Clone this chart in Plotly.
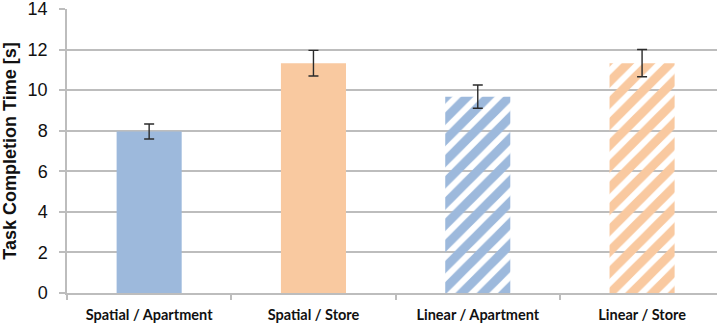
import plotly.graph_objects as go

categories = ["Spatial / Apartment", "Spatial / Store", "Linear / Apartment", "Linear / Store"]
means = [7.96, 11.33, 9.68, 11.33]
errors = [0.37, 0.63, 0.57, 0.67]
colors = ["#9DB9DC", "#F9C9A0", "#9DB9DC", "#F9C9A0"]
patterns = ["", "", "/", "/"]
y_ticks = [0, 2, 4, 6, 8, 10, 12, 14]

fig = go.Figure()
fig.add_trace(go.Bar(
    x=categories,
    y=means,
    width=0.396,
    marker=dict(
        color=colors,
        line=dict(width=0),
        pattern=dict(shape=patterns, fillmode="replace", bgcolor="white",
                     fgcolor=colors, size=15, solidity=0.6),
    ),
    error_y=dict(type="data", array=errors, visible=True, color="#2b2b2b",
                 thickness=1.4, width=5),
    showlegend=False,
))

fig.update_layout(
    width=717, height=329,
    margin=dict(l=67, r=0, t=9, b=36),
    plot_bgcolor="white", paper_bgcolor="white",
    bargap=0.6,
)
fig.update_yaxes(
    range=[0, 14], tickvals=y_ticks, ticktext=[str(v) for v in y_ticks],
    showgrid=True, gridcolor="#BDBDBD", gridwidth=1.5,
    showline=True, linecolor="#BDBDBD", linewidth=1.5,
    ticks="outside", ticklen=6, tickcolor="#BDBDBD", tickwidth=1.5,
    ticklabelstandoff=8, ticklabeloverflow="allow",
    tickfont=dict(family="Liberation Sans, Arial", size=18, color="#111"),
    title=dict(text="Task Completion Time [s]",
               font=dict(family="Liberation Sans, Arial", size=18, color="#111", weight="bold"),
               standoff=8),
    zeroline=False, automargin=False,
)
fig.update_xaxes(
    range=[-0.5, 3.456],
    showline=True, linecolor="#BDBDBD", linewidth=1.5,
    ticks="outside", tickson="boundaries", ticklen=5, tickcolor="#BDBDBD", tickwidth=1.5,
    ticklabelstandoff=8,
    tickfont=dict(family="Lato, Open Sans", size=14.5, color="#111", weight="bold"),
    showgrid=False, automargin=False,
)

fig.write_html("out.html")
